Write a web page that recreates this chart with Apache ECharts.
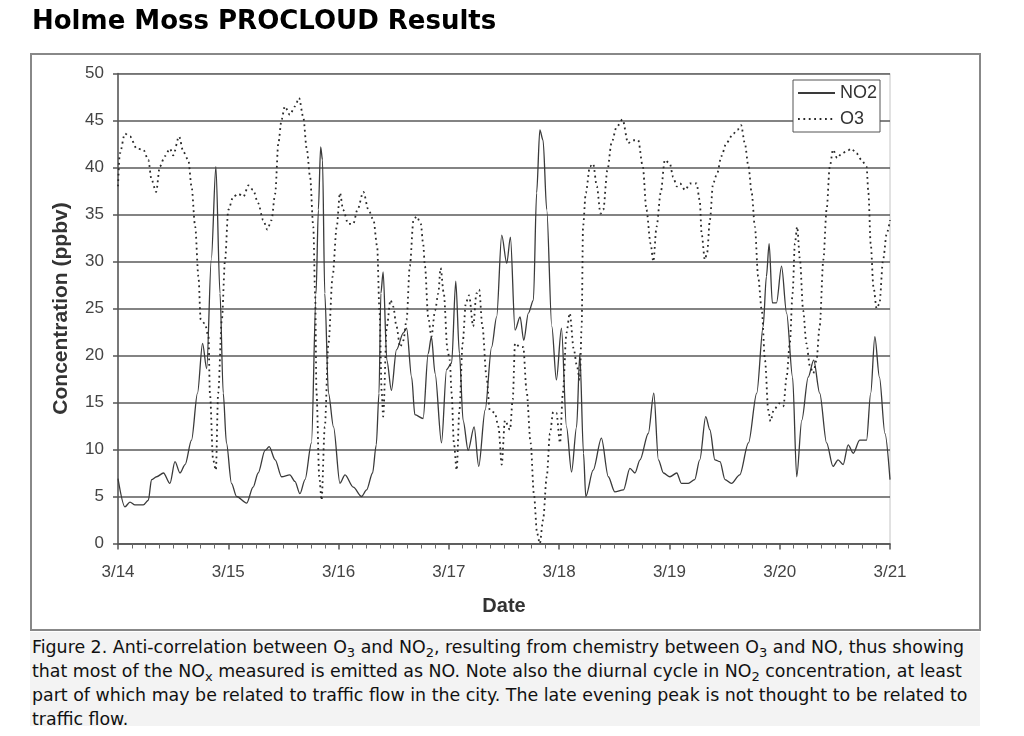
<!DOCTYPE html>
<html>
<head>
<meta charset="utf-8">
<script src="https://cdn.jsdelivr.net/npm/echarts@6/dist/echarts.min.js"></script>
<style>
  html, body { margin: 0; padding: 0; background: #ffffff; }
  #chart { position: absolute; left: 0; top: 0; width: 1024px; height: 736px; }
  #caption {
    position: absolute; left: 30px; top: 632px; width: 950px; height: 94px;
    background: #f3f3f3; font-family: "DejaVu Sans", Verdana, sans-serif;
    font-size: 17.4px; line-height: 24px; color: #111; padding: 3px 0 0 2px;
    box-sizing: border-box; white-space: nowrap; overflow: hidden;
  }
  #caption sub { font-size: 0.75em; vertical-align: -0.3em; line-height: 0; }
</style>
</head>
<body>
<div id="chart"></div>
<div id="caption">Figure 2. Anti-correlation between O<sub>3</sub> and NO<sub>2</sub>, resulting from chemistry between O<sub>3</sub> and NO, thus showing<br>that most of the NO<sub>x</sub> measured is emitted as NO. Note also the diurnal cycle in NO<sub>2</sub> concentration, at least<br>part of which may be related to traffic flow in the city. The late evening peak is not thought to be related to<br>traffic flow.</div>
<script>
// Hours since 3/14 00:00
const dateLabels = ['3/14', '3/15', '3/16', '3/17', '3/18', '3/19', '3/20', '3/21'];

const no2Hours = [0,1.5,2.6,3.7,5.5,6.6,7.3,8.4,9.9,11.3,12.4,13.5,14.6,16.0,17.3,18.4,19.3,20.3,21.3,22.2,22.9,23.6,24.7,25.8,28.0,29.4,30.5,32.0,32.9,34.2,35.6,37.4,38.5,39.6,40.7,42.1,43.1,43.6,44.1,44.5,45.0,45.8,46.9,48.3,49.4,51.2,53.0,54.1,55.4,56.2,56.8,57.2,57.7,58.5,59.5,60.6,62.1,62.8,63.9,64.6,66.4,67.5,68.2,69.0,70.4,71.5,72.6,73.5,74.3,75.1,76.2,77.5,78.5,79.9,81.3,82.4,83.5,84.6,85.4,86.4,87.5,88.3,89.3,90.4,91.1,91.8,92.5,93.3,94.4,95.4,96.5,97.6,98.7,99.8,100.5,101.3,101.8,103.4,105.2,106.7,108.1,110.0,111.4,112.5,113.6,115.4,116.6,117.6,118.7,120.1,121.6,122.6,124.1,125.5,126.6,127.9,128.8,129.9,131.0,132.1,133.5,135.3,137.2,139.0,140.4,141.1,141.7,142.4,143.3,144.4,145.5,146.8,147.7,148.8,150.2,151.4,152.7,154.2,155.6,156.7,157.8,158.9,160.0,161.4,162.9,163.8,164.7,165.7,166.9,168.0];
const no2Values = [6.9,3.9,4.4,4.1,4.1,4.6,6.8,7.1,7.5,6.4,8.7,7.5,8.4,11.0,16.0,21.3,18.6,30.2,40.1,26.6,16.0,10.7,6.4,5.0,4.3,6.0,7.5,9.9,10.3,8.9,7.1,7.3,6.6,5.3,6.8,10.7,26.6,35.5,42.2,40.8,26.6,16.0,12.4,6.4,7.3,6.0,5.0,5.7,7.5,10.5,16.0,26.6,28.9,19.5,16.3,20.6,22.4,22.9,17.7,13.7,13.3,20.2,22.0,18.1,10.7,18.5,19.2,27.9,20.2,13.1,9.9,12.4,8.2,14.2,20.9,24.1,32.8,29.8,32.6,22.7,24.1,21.6,24.5,25.9,37.3,44.0,42.9,35.5,23.1,17.4,22.9,12.4,7.6,12.4,20.2,9.6,5.0,7.8,11.2,7.1,5.5,5.7,8.0,7.5,8.9,11.7,16.0,8.9,7.5,7.1,7.5,6.4,6.4,6.8,8.9,13.5,12.1,8.9,8.7,6.8,6.4,7.3,10.7,16.0,23.1,28.4,31.9,25.6,25.6,29.5,24.5,17.7,7.1,13.1,17.7,19.5,16.0,10.7,8.2,8.9,8.4,10.5,9.6,11.0,11.0,16.0,22.0,17.7,11.7,6.8];

const o3Hours = [0,0.4,1.5,2.6,4.1,5.5,6.6,7.3,8.3,9.1,10.2,11.3,12.0,13.3,14.2,15.3,16.0,16.8,17.5,18.0,18.9,19.7,20.0,20.7,21.3,21.8,22.6,23.3,24.0,25.1,26.2,27.3,28.4,29.4,30.5,31.6,32.5,33.4,34.2,34.9,35.6,36.3,37.4,38.5,39.4,40.3,41.1,41.8,42.5,42.9,43.2,43.8,44.3,45.0,45.8,46.7,47.6,48.3,49.0,50.1,51.2,52.1,53.4,54.5,55.6,56.4,56.9,57.4,57.7,58.5,59.3,59.9,60.6,61.4,62.1,62.8,63.5,64.3,65.0,65.9,66.4,66.8,67.5,68.2,69.0,69.7,70.2,70.9,71.7,72.2,72.6,73.1,73.7,74.3,75.0,75.7,76.4,77.3,78.0,78.6,79.3,80.2,80.9,82.0,82.8,83.5,84.2,85.3,85.9,86.4,87.5,88.2,88.9,89.8,90.5,91.2,91.8,92.5,93.3,94.0,94.7,95.4,96.2,96.8,97.6,98.3,99.2,99.9,100.5,100.9,101.2,101.8,102.7,103.4,104.2,105.0,105.6,106.5,107.4,108.5,109.8,111.0,112.1,113.2,114.2,115.0,115.9,116.5,117.2,118.1,119.0,120.1,120.8,121.6,122.3,123.4,124.5,125.9,126.6,127.0,127.7,128.2,128.8,129.5,130.4,131.3,132.4,133.9,134.8,135.6,136.4,137.2,137.9,138.6,139.3,140.1,140.8,141.5,142.0,142.7,143.9,144.8,145.5,146.2,146.8,147.3,147.8,148.4,149.1,149.8,150.6,151.3,152.0,152.7,153.5,154.2,154.9,155.6,156.5,157.5,158.5,159.6,160.7,161.8,162.9,163.3,163.8,164.4,165.1,165.7,166.5,167.3,168.0];
const o3Values = [38.0,41.5,43.6,43.3,42.0,41.9,40.8,38.7,37.4,40.1,41.2,42.0,41.3,43.3,41.7,40.8,38.0,33.7,28.4,23.8,23.4,22.0,16.0,8.9,7.8,16.0,23.8,30.2,35.5,36.9,37.2,36.9,38.1,37.6,36.2,34.4,33.4,34.4,37.2,42.6,45.1,46.5,45.6,46.5,47.4,45.4,41.9,39.0,33.7,26.6,16.0,7.1,4.6,12.4,21.3,28.4,33.7,37.3,35.5,34.0,34.0,35.5,37.4,35.5,34.4,31.6,24.8,16.0,13.5,23.1,25.9,25.2,23.1,20.9,21.6,23.8,29.5,34.4,34.8,34.0,31.9,29.5,24.1,22.0,24.8,26.6,29.3,26.6,20.6,19.5,16.0,10.7,7.8,14.2,21.3,25.6,26.4,23.1,26.6,27.0,23.1,17.7,14.2,13.9,12.4,8.4,13.1,12.1,15.3,21.3,20.9,20.9,16.3,10.7,5.3,1.1,0,2.5,7.1,11.7,14.0,13.9,10.7,16.0,22.4,24.5,20.6,18.8,17.4,23.1,33.7,37.3,40.1,40.4,38.0,35.1,35.5,39.7,42.6,44.3,45.1,42.6,42.9,42.9,40.1,35.5,31.9,30.0,33.7,37.3,40.8,40.4,39.0,38.0,38.3,37.6,38.3,38.3,36.5,33.0,30.2,30.9,34.4,38.3,39.4,41.2,42.6,43.6,44.0,44.5,42.6,40.1,37.3,33.7,28.4,24.8,19.5,14.2,13.0,14.2,14.9,14.6,17.7,21.3,26.6,31.9,33.7,30.2,24.8,21.3,18.8,18.1,19.5,23.1,30.2,35.5,40.1,41.9,41.0,41.5,41.7,42.0,41.5,40.8,40.1,37.3,31.9,27.3,25.0,25.5,30.2,33.0,34.4];

const yTicks = [0, 5, 10, 15, 20, 25, 30, 35, 40, 45, 50];

const no2Data = no2Hours.map((h, i) => [h, no2Values[i]]);
const o3Data = o3Hours.map((h, i) => [h, o3Values[i]]);

const chart = echarts.init(document.getElementById('chart'), null, { renderer: 'canvas' });
const axisFont = '"Liberation Sans", Arial, sans-serif';

chart.setOption({
  backgroundColor: '#ffffff',
  animation: false,
  title: {
    text: 'Holme Moss PROCLOUD Results',
    left: 27, top: 4,
    textStyle: { fontFamily: '"DejaVu Sans", Verdana, sans-serif', fontWeight: 'bold', fontSize: 26, color: '#000' }
  },
  graphic: [{
    type: 'rect', z: -1,
    shape: { x: 31, y: 54, width: 949, height: 576 },
    style: { fill: '#ffffff', stroke: '#888888', lineWidth: 2 }
  }],
  grid: {
    left: 118, right: 134, top: 73.5, bottom: 192.5,
    show: true, borderColor: '#c4c4c4', borderWidth: 1, backgroundColor: 'transparent'
  },
  legend: {
    orient: 'vertical', left: 793, top: 80,
    backgroundColor: '#ffffff', borderColor: '#555555', borderWidth: 1,
    padding: [4, 3, 4, 4], itemGap: 8, itemWidth: 37, itemHeight: 14,
    itemStyle: { opacity: 0 },
    textStyle: { fontFamily: axisFont, fontSize: 18, color: '#333', padding: [0, 0, 0, 0] },
    data: [{ name: 'NO2' }, { name: 'O3' }]
  },
  xAxis: {
    type: 'value', min: 0, max: 168, interval: 24,
    name: 'Date', nameLocation: 'middle', nameGap: 53,
    nameTextStyle: { fontFamily: axisFont, fontWeight: 'bold', fontSize: 20, color: '#333' },
    axisLine: { show: true, onZero: false, lineStyle: { color: '#555', width: 1.5 } },
    axisTick: { show: true, length: 6, lineStyle: { color: '#555', width: 1.5 } },
    minorTick: { show: true, splitNumber: 8, length: 5, lineStyle: { color: '#666', width: 1 } },
    splitLine: { show: false },
    axisLabel: {
      margin: 20, fontFamily: axisFont, fontSize: 17, color: '#444',
      formatter: v => dateLabels[Math.round(v / 24)]
    }
  },
  yAxis: {
    type: 'value', min: 0, max: 50, interval: 5,
    name: 'Concentration (ppbv)', nameLocation: 'middle', nameGap: 46,
    nameTextStyle: { fontFamily: axisFont, fontWeight: 'bold', fontSize: 21, color: '#333' },
    axisLine: { show: true, lineStyle: { color: '#555', width: 1.5 } },
    axisTick: { show: true, length: 5, lineStyle: { color: '#555', width: 1.5 } },
    splitLine: { show: true, lineStyle: { color: '#5a5a5a', width: 1.6 } },
    axisLabel: {
      margin: 14, fontFamily: axisFont, fontSize: 17, color: '#444',
      formatter: v => (yTicks.indexOf(v) >= 0 ? String(v) : '')
    }
  },
  series: [
    {
      name: 'NO2', type: 'line', data: no2Data, showSymbol: false, symbol: 'none',
      smooth: 0.3, smoothMonotone: 'x',
      lineStyle: { color: '#3a3a3a', width: 1.3, type: 'solid' },
      itemStyle: { color: '#3a3a3a' }, z: 3
    },
    {
      name: 'O3', type: 'line', data: o3Data, showSymbol: false, symbol: 'none',
      smooth: 0.3, smoothMonotone: 'x',
      lineStyle: { color: '#2a2a2a', width: 1.8, type: [1.8, 3.6] },
      itemStyle: { color: '#2a2a2a' }, z: 4
    }
  ]
});
</script>
</body>
</html>
